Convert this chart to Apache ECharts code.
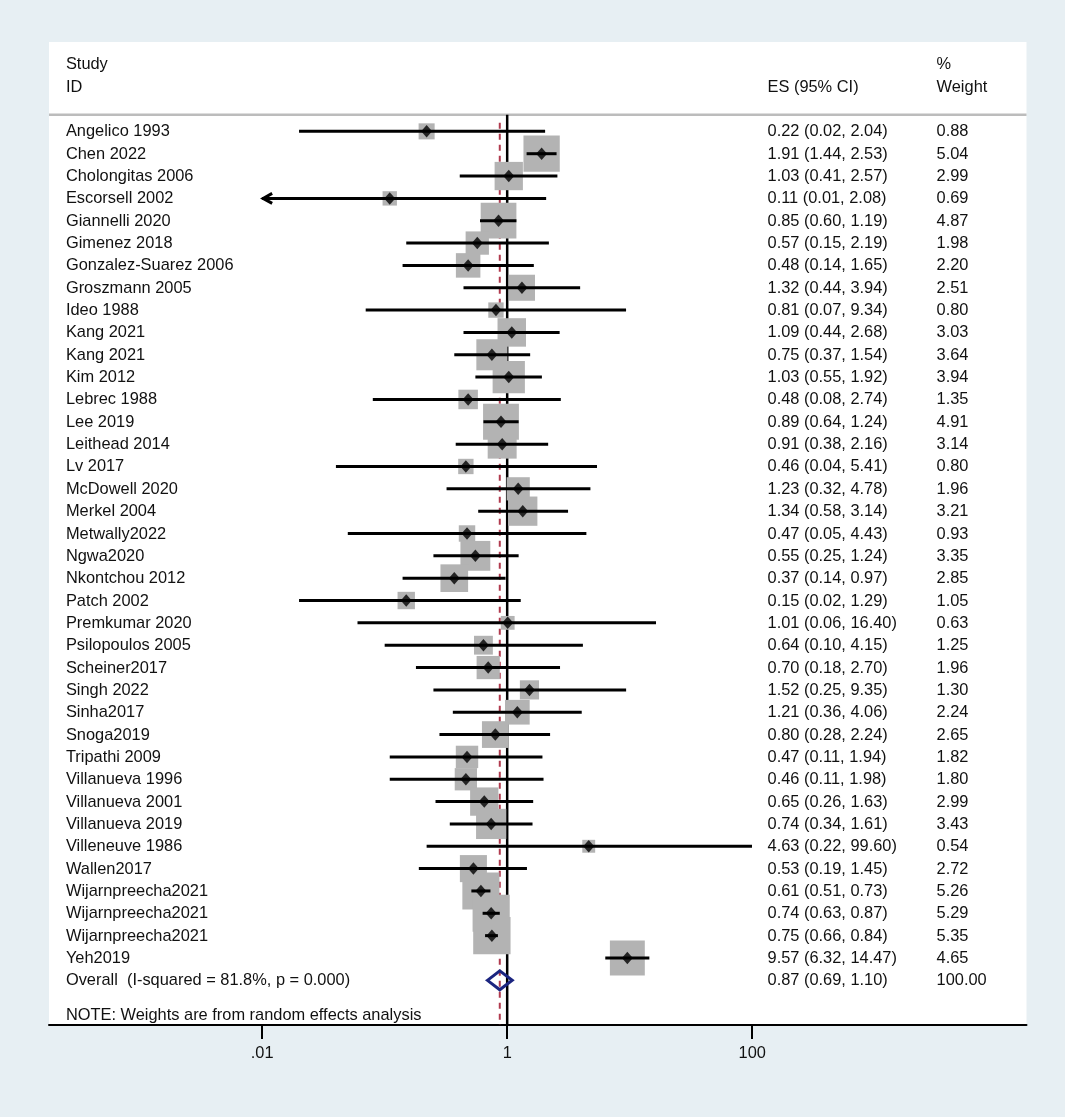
<!DOCTYPE html>
<html>
<head>
<meta charset="utf-8">
<script src="https://cdn.jsdelivr.net/npm/echarts@6/dist/echarts.min.js"></script>
<style>
html,body{margin:0;padding:0;background:#e7eff3;}
#chart{width:1065px;height:1117px;}
</style>
</head>
<body>
<div id="chart"></div>
<script>
// ---------------- data ----------------
const studies = [
  'Angelico 1993','Chen 2022','Cholongitas 2006','Escorsell 2002','Giannelli 2020','Gimenez 2018',
  'Gonzalez-Suarez 2006','Groszmann 2005','Ideo 1988','Kang 2021','Kang 2021','Kim 2012',
  'Lebrec 1988','Lee 2019','Leithead 2014','Lv 2017','McDowell 2020','Merkel 2004',
  'Metwally2022','Ngwa2020','Nkontchou 2012','Patch 2002','Premkumar 2020','Psilopoulos 2005',
  'Scheiner2017','Singh 2022','Sinha2017','Snoga2019','Tripathi 2009','Villanueva 1996',
  'Villanueva 2001','Villanueva 2019','Villeneuve 1986','Wallen2017','Wijarnpreecha2021',
  'Wijarnpreecha2021','Wijarnpreecha2021','Yeh2019'
];
const es = [0.22,1.91,1.03,0.11,0.85,0.57,0.48,1.32,0.81,1.09,0.75,1.03,0.48,0.89,0.91,0.46,1.23,1.34,
  0.47,0.55,0.37,0.15,1.01,0.64,0.70,1.52,1.21,0.80,0.47,0.46,0.65,0.74,4.63,0.53,0.61,0.74,0.75,9.57];
const ciLow = [0.02,1.44,0.41,0.01,0.60,0.15,0.14,0.44,0.07,0.44,0.37,0.55,0.08,0.64,0.38,0.04,0.32,0.58,
  0.05,0.25,0.14,0.02,0.06,0.10,0.18,0.25,0.36,0.28,0.11,0.11,0.26,0.34,0.22,0.19,0.51,0.63,0.66,6.32];
const ciHigh = [2.04,2.53,2.57,2.08,1.19,2.19,1.65,3.94,9.34,2.68,1.54,1.92,2.74,1.24,2.16,5.41,4.78,3.14,
  4.43,1.24,0.97,1.29,16.40,4.15,2.70,9.35,4.06,2.24,1.94,1.98,1.63,1.61,99.60,1.45,0.73,0.87,0.84,14.47];
const weights = [0.88,5.04,2.99,0.69,4.87,1.98,2.20,2.51,0.80,3.03,3.64,3.94,1.35,4.91,3.14,0.80,1.96,3.21,
  0.93,3.35,2.85,1.05,0.63,1.25,1.96,1.30,2.24,2.65,1.82,1.80,2.99,3.43,0.54,2.72,5.26,5.29,5.35,4.65];

const overallLabel = 'Overall  (I-squared = 81.8%, p = 0.000)';
const overallES = [0.87];
const overallLow = [0.69];
const overallHigh = [1.10];
const overallWeight = [100.00];

const xTickValues = [0.01, 1, 100];
const xTickLabels = ['.01', '1', '100'];
const headerStudy = ['Study', 'ID'];
const headerES = ['ES (95% CI)'];
const headerWeight = ['%', 'Weight'];
const noteText = 'NOTE: Weights are from random effects analysis';

// ---------------- layout (axis units: x = log10 scale, y = row) ----------------
const X_MIN = -3.740, X_MAX = 4.239;
const Y_MIN = -4, Y_MAX = 40;
const COL_STUDY = -3.602, COL_ES = 2.125, COL_W = 3.505;
const FONT = '16.4px "Liberation Sans", Arial, sans-serif';
const TEXT_COLOR = '#111';
const clipMin = xTickValues[0], clipMax = xTickValues[xTickValues.length - 1];

const lg = v => Math.log10(v);
const f2 = v => v.toFixed(2);
const n = studies.length;
const overallRow = n;

// text items
const textItems = [];
headerStudy.forEach((t, k) => textItems.push({x: COL_STUDY, y: -3 + k, text: t}));
textItems.push({x: COL_ES, y: -2, text: headerES[0]});
headerWeight.forEach((t, k) => textItems.push({x: COL_W, y: -3 + k, text: t}));
studies.forEach((s, i) => {
  textItems.push({x: COL_STUDY, y: i, text: s});
  textItems.push({x: COL_ES, y: i, text: f2(es[i]) + ' (' + f2(ciLow[i]) + ', ' + f2(ciHigh[i]) + ')'});
  textItems.push({x: COL_W, y: i, text: f2(weights[i])});
});
textItems.push({x: COL_STUDY, y: overallRow, text: overallLabel});
textItems.push({x: COL_ES, y: overallRow, text: f2(overallES[0]) + ' (' + f2(overallLow[0]) + ', ' + f2(overallHigh[0]) + ')'});
textItems.push({x: COL_W, y: overallRow, text: f2(overallWeight[0])});
textItems.push({x: COL_STUDY, y: overallRow + 1.55, text: noteText});

const boxData = studies.map((s, i) => [lg(es[i]), i, weights[i]]);
const ciData = studies.map((s, i) => [lg(Math.max(ciLow[i], clipMin)), lg(Math.min(ciHigh[i], clipMax)), i,
  ciLow[i] <= clipMin ? 1 : 0, ciHigh[i] >= clipMax ? 1 : 0]);
const pointData = studies.map((s, i) => [lg(es[i]), i]);
const tickLogs = xTickValues.map(lg);

const chart = echarts.init(document.getElementById('chart'), null, {renderer: 'canvas'});
chart.setOption({
  backgroundColor: '#e7eff3',
  animation: false,
  grid: {left: 49, right: 38.5, top: 42, bottom: 92, show: true, backgroundColor: '#ffffff', borderWidth: 0},
  xAxis: {
    type: 'value', min: X_MIN, max: X_MAX,
    axisLine: {show: true, onZero: false, lineStyle: {color: '#000', width: 2}},
    axisTick: {show: true, customValues: tickLogs, length: 14, lineStyle: {color: '#000', width: 2}},
    axisLabel: {show: true, customValues: tickLogs, margin: 20, color: TEXT_COLOR, fontSize: 16.4,
      fontFamily: '"Liberation Sans", Arial, sans-serif',
      formatter: v => { const k = tickLogs.findIndex(t => Math.abs(t - v) < 1e-6); return k >= 0 ? xTickLabels[k] : ''; }},
    splitLine: {show: false}
  },
  yAxis: {type: 'value', min: Y_MIN, max: Y_MAX, inverse: true, show: false, splitLine: {show: false}},
  series: [
    { // separator
      type: 'line', z: 1, silent: true, showSymbol: false,
      data: [[X_MIN, -0.74], [X_MAX, -0.74]],
      lineStyle: {color: '#bcbcbc', width: 2.5}
    },
    { // null line at 1
      type: 'line', z: 1, silent: true, showSymbol: false,
      data: [[0, -0.74], [0, Y_MAX]],
      lineStyle: {color: '#000', width: 2.5}
    },
    { // overall effect line
      type: 'line', z: 1, silent: true, showSymbol: false,
      data: [[lg(overallES[0]), -0.38], [lg(overallES[0]), Y_MAX]],
      lineStyle: {color: '#b03a4e', width: 2, type: [6, 5]}
    },
    { // weight boxes
      type: 'custom', z: 2, silent: true,
      data: boxData,
      renderItem: (params, api) => {
        const c = api.coord([api.value(0), api.value(1)]);
        const side = 15.5 * Math.sqrt(api.value(2)) + 1.5;
        return {type: 'rect', shape: {x: c[0] - side / 2, y: c[1] - side / 2, width: side, height: side},
          style: {fill: '#b3b3b3'}};
      }
    },
    { // confidence intervals
      type: 'custom', z: 3, silent: true,
      data: ciData,
      renderItem: (params, api) => {
        const a = api.coord([api.value(0), api.value(2)]);
        const b = api.coord([api.value(1), api.value(2)]);
        const children = [{type: 'line', shape: {x1: a[0], y1: a[1], x2: b[0], y2: b[1]},
          style: {stroke: '#000', lineWidth: 3}}];
        if (api.value(3)) children.push({type: 'polyline', shape: {points: [[a[0] + 10, a[1] - 5], [a[0] + 1, a[1]], [a[0] + 10, a[1] + 5]]},
          style: {stroke: '#000', lineWidth: 3, fill: null}});
        if (api.value(4)) children.push({type: 'polyline', shape: {points: [[b[0] - 10, b[1] - 5], [b[0] - 1, b[1]], [b[0] - 10, b[1] + 5]]},
          style: {stroke: '#000', lineWidth: 3, fill: null}});
        return {type: 'group', children};
      }
    },
    { // point estimates
      type: 'scatter', z: 4, silent: true,
      data: pointData, symbol: 'diamond', symbolSize: [11, 12.5],
      itemStyle: {color: '#000'}
    },
    { // overall diamond
      type: 'custom', z: 4, silent: true,
      data: [[lg(overallLow[0]), lg(overallES[0]), lg(overallHigh[0]), overallRow]],
      renderItem: (params, api) => {
        const r = api.value(3), h = 0.425;
        const p1 = api.coord([api.value(0), r]);
        const p2 = api.coord([api.value(1), r - h]);
        const p3 = api.coord([api.value(2), r]);
        const p4 = api.coord([api.value(1), r + h]);
        return {type: 'polygon', shape: {points: [p1, p2, p3, p4]},
          style: {fill: null, stroke: '#1b2580', lineWidth: 3}};
      }
    },
    { // texts
      type: 'custom', z: 5, silent: true,
      data: textItems.map(t => [t.x, t.y]),
      renderItem: (params, api) => {
        const t = textItems[params.dataIndex];
        const p = api.coord([api.value(0), api.value(1)]);
        return {type: 'text', x: p[0], y: p[1] + 0.5,
          style: {text: t.text, fill: TEXT_COLOR, font: FONT, align: 'left', verticalAlign: 'middle'}};
      }
    }
  ]
});
</script>
</body>
</html>
